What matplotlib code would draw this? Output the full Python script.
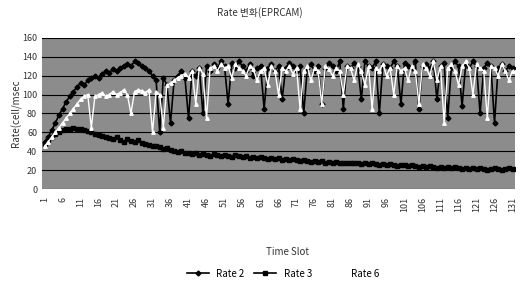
import numpy as np
import matplotlib
matplotlib.use('Agg')
import matplotlib.pyplot as plt

plt.rcParams['font.family'] = ['Noto Sans CJK KR', 'DejaVu Sans']

# Data
slots = list(range(1, 132))

rate2 = [50, 55, 62, 70, 78, 85, 92, 98, 103, 108,
         112, 110, 115, 118, 120, 118, 122, 125, 123, 127,
         125, 128, 130, 132, 130, 135, 133, 130, 128, 125,
         120, 115, 60, 118, 110, 70, 115, 120, 125, 118,
         75, 125, 120, 128, 80, 130, 125, 132, 128, 135,
         130, 90, 133, 128, 135, 130, 125, 132, 120, 128,
         130, 85, 128, 132, 125, 130, 95, 128, 133, 130,
         125, 130, 80, 128, 132, 125, 130, 90, 128, 133,
         130, 125, 135, 85, 130, 128, 133, 130, 95, 135,
         130, 128, 135, 80, 132, 130, 128, 135, 130, 90,
         133, 130, 128, 135, 85, 130, 132, 128, 135, 95,
         130, 133, 75, 128, 135, 130, 88, 132, 128, 135,
         130, 80, 128, 133, 130, 70, 128, 132, 125, 130, 128]

rate3 = [48, 52, 55, 58, 60, 62, 63, 64, 65, 64, 63,
         62, 61, 60, 58, 57, 56, 55, 54, 53,
         55, 52, 50, 53, 51, 50, 52, 49, 48, 47,
         46, 45, 44, 42, 43, 41, 40, 39, 40, 38,
         38, 37, 38, 36, 37, 36, 35, 37, 36, 35,
         36, 35, 34, 36, 35, 34, 35, 33, 34, 33,
         34, 33, 32, 33, 32, 33, 31, 32, 31, 32,
         31, 30, 31, 30, 29, 30, 29, 30, 28, 29,
         28, 29, 28, 27, 28, 27, 28, 27, 26, 27,
         26, 27, 26, 25, 26, 25, 26, 25, 24, 25,
         25, 24, 25, 24, 23, 24, 23, 24, 23, 22,
         23, 22, 23, 22, 23, 22, 21, 22, 21, 22,
         21, 22, 21, 20, 21, 22, 21, 20, 21, 22, 21]

rate6 = [45, 50, 55, 60, 65, 70, 75, 80, 85, 90, 95, 98,
         100, 65, 98, 100, 102, 98, 100, 103, 100, 102,
         105, 100, 80, 103, 105, 104, 102, 105, 60, 103, 100,
         65, 110, 112, 115, 118, 120, 122,
         118, 125, 90, 128, 122, 75, 128, 130, 125, 132,
         128, 130, 118, 132, 128, 125, 120, 130, 127, 115,
         125, 128, 110, 130, 125, 100, 128, 125, 130, 122,
         128, 85, 125, 130, 115, 128, 125, 90, 130, 127,
         120, 128, 125, 100, 130, 128, 115, 132, 125, 110,
         130, 85, 128, 125, 132, 120, 128, 100, 130, 125,
         128, 115, 130, 125, 90, 132, 128, 120, 135, 115,
         130, 70, 128, 132, 125, 110, 130, 135, 128, 100,
         132, 128, 125, 75, 130, 128, 120, 132, 125, 115, 125]

tick_slots = list(range(1, 132, 5))

fig = plt.figure(figsize=(5.25, 2.89), dpi=100)
ax = fig.add_axes([0.08, 0.346, 0.901, 0.523])
ax.set_facecolor('#8c8c8c')

ax.plot(slots, rate2, color='black', lw=1.2, marker='D', ms=2.5, label='Rate 2')
ax.plot(slots, rate3, color='black', lw=1.2, marker='s', ms=2.5, label='Rate 3')
ax.plot(slots, rate6, color='white', lw=1.0, marker='^', ms=2.5, label='Rate 6')

ax.set_ylim(0, 160)
ax.set_yticks(range(0, 161, 20))
ax.set_xlim(0.3, 131.7)
ax.set_xticks(tick_slots)
ax.set_xticklabels([str(t) for t in tick_slots], rotation=90)
ax.tick_params(labelsize=6.5, colors='#333333', length=0)
ax.tick_params(axis='x', pad=6)
ax.yaxis.grid(True, color='black', lw=0.8)
ax.set_axisbelow(True)
for s in ax.spines.values():
    s.set_visible(False)

fig.text(0.495, 0.955, 'Rate 변화(EPRCAM)', fontsize=7, color='#333333',
         ha='center', va='center')
ax.set_ylabel('Rate(cell/msec', fontsize=7, color='#333333')
ax.yaxis.set_label_coords(-0.042, 0.5)
ax.set_xlabel('Time Slot', fontsize=7, color='#333333')
ax.xaxis.set_label_coords(0.518, -0.385)
ax.legend(loc='center', bbox_to_anchor=(0.51, -0.56), ncol=3, frameon=False,
          fontsize=7, handlelength=2.2, columnspacing=1.0)

fig.savefig('out.png', dpi=100)
